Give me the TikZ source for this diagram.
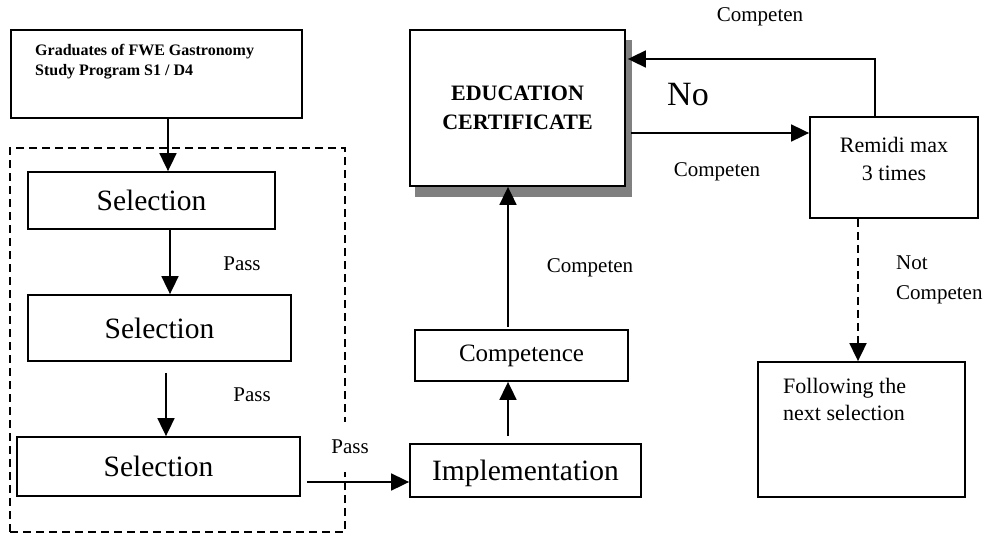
\documentclass[tikz,border=0pt]{standalone}
\usepackage{fontspec}
\setmainfont{Liberation Serif}
\usetikzlibrary{arrows.meta}
\definecolor{shadowgray}{HTML}{808080}
\begin{document}
\begin{tikzpicture}[x=1pt,y=-1pt,
  box/.style={draw, line width=1.8pt, rectangle, inner sep=0pt, fill=white},
  arr/.style={line width=1.8pt, -{Triangle[length=18pt,width=17pt]}},
  dasharr/.style={arr, dash pattern=on 8pt off 5pt},
  lbl/.style={font=\fontsize{21}{25}\selectfont, inner sep=0pt},
  selfont/.style={font=\fontsize{29.5}{33}\selectfont},
]
\useasboundingbox (0,0) rectangle (998,535);

% dashed group frame
\node[draw, line width=1.4pt, dash pattern=on 8pt off 5pt, inner sep=0pt,
      minimum width=335pt, minimum height=384pt] (grp) at (177.5,340) {};

% top input box
\node[box, minimum width=291pt, minimum height=88pt] (grad) at (156.5,74) {};
\node[anchor=north west, align=left, inner sep=0pt,
      font=\bfseries\fontsize{16}{20}\selectfont] (gradt) at (35,44)
      {Graduates of FWE Gastronomy\\Study Program S1 / D4};

% selections
\node[box, selfont, minimum width=247pt, minimum height=57pt] (sel1) at (151.5,200.5) {Selection};
\node[box, selfont, minimum width=263pt, minimum height=66pt] (sel2) at (159.5,328) {Selection};
\node[box, selfont, minimum width=283pt, minimum height=59pt] (sel3) at (158.5,466.5) {Selection};

% implementation / competence
\node[box, selfont, minimum width=231pt, minimum height=53pt, text depth=1pt] (impl) at (525.5,470.5) {Implementation};
\node[box, font=\fontsize{25}{29}\selectfont, minimum width=213pt, minimum height=51pt] (comp) at (521.5,355.5) {Competence};

% education certificate with shadow
\fill[shadowgray] (415,40) rectangle (632,197);
\node[box, minimum width=215pt, minimum height=156pt, align=center,
      font=\bfseries\fontsize{22}{29}\selectfont] (edu) at (517.5,108) {EDUCATION\\CERTIFICATE};

% remidi
\node[box, minimum width=168pt, minimum height=101pt] (rem) at (894,167.5) {};
\node[align=center, inner sep=0pt, font=\fontsize{22}{28}\selectfont] (remt) at (894,159) {Remidi max\\3 times};

% following
\node[box, minimum width=207pt, minimum height=135pt] (foll) at (861.5,429.5) {};
\node[anchor=north west, align=left, inner sep=0pt, font=\fontsize{22}{27}\selectfont] (follt) at (783,378) {Following the\\next selection};

% arrows
\draw[arr] ([xshift=11.5pt]grad.south) -- ([xshift=16.5pt]sel1.north);
\draw[arr] ([xshift=18.5pt]sel1.south) -- ([xshift=10.5pt]sel2.north);
\draw[arr] ([xshift=6.5pt,yshift=-11pt]sel2.south) -- ([xshift=7.5pt]sel3.north);
\draw[arr] ([xshift=6pt,yshift=-15.5pt]sel3.east) -- ([yshift=-11.5pt]impl.west);
\draw[arr] ([xshift=-17.5pt,yshift=7pt]impl.north) -- ([xshift=-13.5pt]comp.south);
\draw[arr] ([xshift=-13.5pt,yshift=2pt]comp.north) -- ([xshift=-9.5pt]edu.south);
\draw[arr] ([xshift=5pt,yshift=-25pt]edu.east) -- ([yshift=34.5pt]rem.west);
\draw[arr] ([xshift=-19pt]rem.north) |- ([yshift=49pt,xshift=2pt]edu.east);
\draw[dasharr] ([xshift=-36pt]rem.south) -- ([xshift=-3.5pt]foll.north);

% labels
\node[lbl] (p1) at (242,264) {Pass};
\node[lbl] (p2) at (252,395) {Pass};
\node[lbl, fill=white, inner xsep=2pt, minimum height=50pt] (p3) at (350,447) {Pass};
\node[lbl] (c1) at (590,268) {Competen};
\node[lbl] (c2) at (717,172) {Competen};
\node[lbl] (c3) at (760,17) {Competen};
\node[inner sep=0pt, font=\fontsize{34}{38}\selectfont] (no) at (688,95) {No};
\node[anchor=west, align=left, inner sep=0pt, font=\fontsize{21}{30}\selectfont] (nc) at (896,280) {Not\\Competen};
\end{tikzpicture}
\end{document}
